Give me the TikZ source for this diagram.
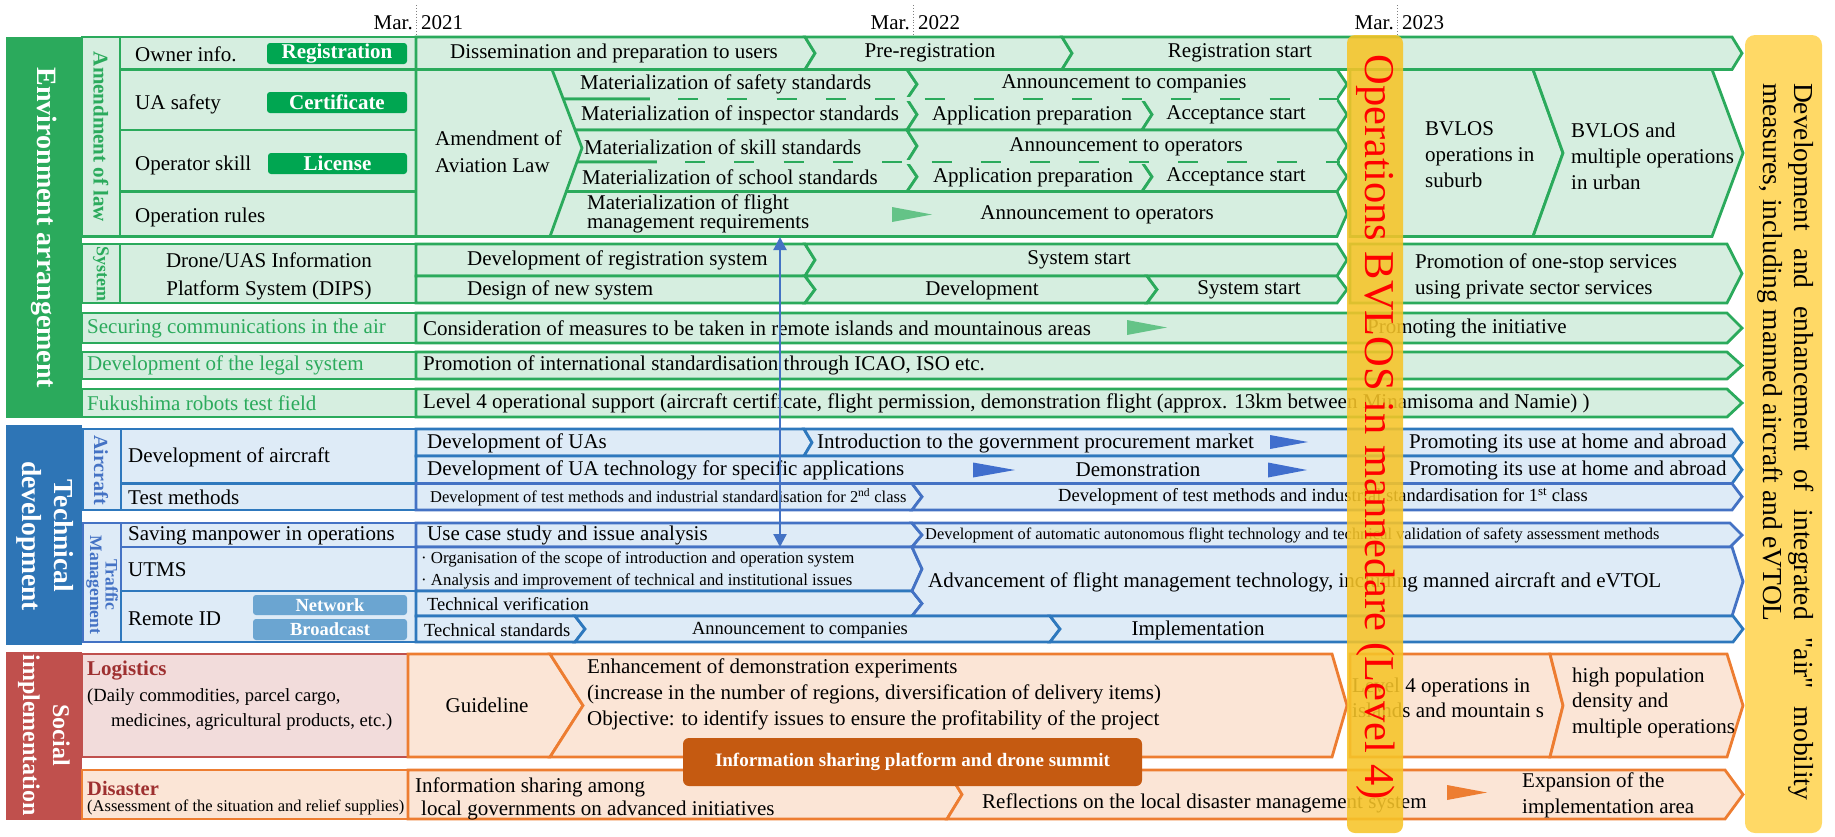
\documentclass[tikz,border=0pt]{standalone}
\usepackage{fontspec}
\setmainfont{Liberation Serif}[Ligatures=TeXOff]
\usetikzlibrary{arrows.meta}

\definecolor{egreen}{RGB}{43,170,92}
\definecolor{lgreen}{RGB}{214,238,224}
\definecolor{bgreen}{RGB}{0,166,81}
\definecolor{mkgreen}{RGB}{100,195,135}
\definecolor{tblue}{RGB}{46,117,182}
\definecolor{blueA}{RGB}{46,120,189}
\definecolor{blueB}{RGB}{68,114,196}
\definecolor{lblue}{RGB}{222,235,247}
\definecolor{badgeblue}{RGB}{107,165,209}
\definecolor{mkblue}{RGB}{64,110,205}
\definecolor{sred}{RGB}{192,80,77}
\definecolor{lpink}{RGB}{242,220,219}
\definecolor{dred}{RGB}{158,48,48}
\definecolor{orng}{RGB}{237,125,49}
\definecolor{lpeach}{RGB}{251,229,214}
\definecolor{banner}{RGB}{197,90,17}
\definecolor{ylw}{RGB}{246,196,40}
\definecolor{ylwlight}{RGB}{255,217,102}

% chevron: style, x left, left notch depth, x tip, tip depth, y top, y bottom
\newcommand{\chevshape}[7]{%
  \path[#1] (#2,#6) -- ({#4-#5},#6) -- (#4,{(#6+#7)/2}) -- ({#4-#5},#7)
    -- (#2,#7) -- ({#2+#3},{(#6+#7)/2}) -- cycle;}

\begin{document}
\begin{tikzpicture}[x=1pt, y=-1pt,
  cellg/.style={fill=lgreen, draw=egreen, line width=2.8pt},
  cellbA/.style={fill=lblue, draw=blueA, line width=2.8pt},
  cellbB/.style={fill=lblue, draw=blueB, line width=2.8pt},
  cello/.style={fill=lpeach, draw=orng, line width=2.8pt},
  cellr/.style={fill=lpink, draw=sred, line width=2.8pt},
  txt/.style={inner sep=0pt, font=\fontsize{21}{26}\selectfont},
  txtw/.style={txt, anchor=west},
  fsmall/.style={font=\fontsize{16.5}{20}\selectfont},
  fmid/.style={font=\fontsize{18.5}{23}\selectfont},
  bandtxt/.style={inner sep=0pt, rotate=-90, text=white, align=center},
  subtxt/.style={inner sep=0pt, rotate=-90, align=center},
  badgeg/.style={fill=bgreen, rounded corners=3pt, inner sep=0pt, text=white,
    font=\bfseries\fontsize{21}{24}\selectfont},
  badgeb/.style={fill=badgeblue, rounded corners=3pt, inner sep=0pt, text=white,
    font=\bfseries\fontsize{18.5}{22}\selectfont}
]
\useasboundingbox (0,0) rectangle (1835,836);

% ---------- time axis
\foreach \xx/\yr/\nm in {416/2021/a,913/2022/b,1397/2023/c}{
  \draw[gray, dotted, line width=0.9pt] (\xx,5) -- (\xx,36);
  \node[txt, anchor=east] (mar\nm) at (\xx-3,23) {Mar.};
  \node[txt, anchor=west] (yr\nm) at (\xx+5,23) {\yr};
}

% ================= Environment arrangement =================
\path[fill=egreen] (6,37) rectangle (82,418);
\node[bandtxt, font=\bfseries\fontsize{28}{32}\selectfont] (envT) at (44,228) {Environment arrangement};

\path[cellg] (82,37) rectangle (120,236.5);
\node[subtxt, text=egreen, font=\bfseries\fontsize{21}{24}\selectfont] (lawT) at (101,137) {Amendment of law};

\path[cellg] (120,37) rectangle (416,69.5);
\path[cellg] (120,69.5) rectangle (416,130);
\path[cellg] (120,130) rectangle (416,191.5);
\path[cellg] (120,191.5) rectangle (416,236.5);
\node[txtw] (ownT) at (135,54) {Owner info.};
\node[txtw] (uaT) at (135,104) {UA safety};
\node[txtw] (opT) at (135,165) {Operator skill};
\node[txtw] (orT) at (135,217) {Operation rules};
\node[badgeg, minimum width=140pt, minimum height=21pt] (regB) at (337,53.5) {Registration};
\node[badgeg, minimum width=140pt, minimum height=21pt] (cerB) at (337,102.5) {Certificate};
\node[badgeg, minimum width=139pt, minimum height=21pt] (licB) at (337.5,163.5) {License};

% owner info row
\chevshape{cellg}{416}{0}{815}{10}{37}{69.5}
\chevshape{cellg}{805}{10}{1072}{10}{37}{69.5}
\chevshape{cellg}{1062}{10}{1742}{10}{37}{69.5}
\node[txt] (dissT) at (614,53) {Dissemination and preparation to users};
\node[txt] (preT) at (930,53) {Pre-registration};
\node[txt] (regsT) at (1240,53) {Registration start};

% BVLOS stages
\path[cellg] (1350,69.5) -- (1533,69.5) -- (1563,153) -- (1533,236.5) -- (1350,236.5) -- cycle;
\path[cellg] (1533,69.5) -- (1712,69.5) -- (1743,153) -- (1712,236.5) -- (1533,236.5) -- (1563,153) -- cycle;
\node[txtw, align=left] (bv1T) at (1425,155) {BVLOS\\operations in\\suburb};
\node[txtw, align=left] (bv2T) at (1571,156) {BVLOS and\\multiple operations\\in urban};

% standards rows
\chevshape{cellg}{540}{0}{917}{10}{69.5}{99}
\chevshape{cellg}{907}{10}{1347}{10}{69.5}{99}
\chevshape{cellg}{540}{0}{917}{10}{99}{130}
\chevshape{cellg}{907}{10}{1152}{10}{99}{130}
\chevshape{cellg}{1142}{10}{1347}{10}{99}{130}
\chevshape{cellg}{540}{0}{917}{10}{130}{162}
\chevshape{cellg}{907}{10}{1347}{10}{130}{162}
\chevshape{cellg}{540}{0}{917}{10}{162}{191.5}
\chevshape{cellg}{907}{10}{1152}{10}{162}{191.5}
\chevshape{cellg}{1142}{10}{1347}{10}{162}{191.5}
\chevshape{cellg}{540}{0}{1347}{10}{191.5}{236.5}

% Amendment of Aviation Law
\path[cellg] (416,69.5) -- (552,69.5) -- (582,148) -- (550,236.5) -- (416,236.5) -- cycle;
\node[txtw, align=left, font=\fontsize{21}{27}\selectfont] (aalT) at (435,152) {Amendment of\\Aviation Law};

% dashed separators
\draw[lgreen, line width=3.6pt] (650,99) -- (1337,99);
\draw[egreen, line width=2.8pt, dash pattern=on 20pt off 29.3pt] (678,99) -- (1340,99);
\draw[lgreen, line width=3.6pt] (657,162) -- (1337,162);
\draw[egreen, line width=2.8pt, dash pattern=on 20pt off 29.3pt] (685,162) -- (1340,162);

\node[txtw] (matsT) at (580,84) {Materialization of safety standards};
\node[txt] (ancT) at (1124,84) {Announcement to companies};
\node[txtw] (matiT) at (581,115) {Materialization of inspector standards};
\node[txt] (appT1) at (1032,115) {Application preparation};
\node[txt] (accT1) at (1236,115) {Acceptance start};
\node[txtw] (matkT) at (584,147) {Materialization of skill standards};
\node[txt] (anoT) at (1126,147) {Announcement to operators};
\node[txtw] (matcT) at (582,177) {Materialization of school standards};
\node[txt] (appT2) at (1033,177) {Application preparation};
\node[txt] (accT2) at (1236,177) {Acceptance start};
\node[txtw, align=left, font=\fontsize{21}{19}\selectfont] (matfT) at (587,214) {Materialization of flight\\management requirements};
\path[fill=mkgreen] (892,207) -- (932,214.5) -- (892,222) -- cycle;
\node[txt] (anoT2) at (1097,215) {Announcement to operators};

% System
\path[cellg] (82,244) rectangle (120,303);
\node[subtxt, text=egreen, font=\bfseries\fontsize{18}{20}\selectfont] (sysT) at (101,274) {System};
\path[cellg] (120,244) rectangle (416,303);
\node[txt, align=center, font=\fontsize{21}{28}\selectfont] (dipsT) at (269,276) {Drone/UAS Information\\Platform System (DIPS)};

\path[cellg] (1350,244) -- (1727,244) -- (1742,273.5) -- (1727,303) -- (1350,303) -- cycle;
\chevshape{cellg}{416}{0}{815}{10}{244}{276}
\chevshape{cellg}{805}{10}{1347}{10}{244}{276}
\chevshape{cellg}{416}{0}{815}{10}{276}{303}
\chevshape{cellg}{805}{10}{1157}{10}{276}{303}
\chevshape{cellg}{1147}{10}{1347}{10}{276}{303}
\node[txtw] (drsT) at (467,260) {Development of registration system};
\node[txt] (ss1T) at (1079,260) {System start};
\node[txtw] (dnsT) at (467,290) {Design of new system};
\node[txt] (devT) at (982,290) {Development};
\node[txt] (ss2T) at (1249,290) {System start};
\node[txtw, align=left] (promT) at (1415,276.5) {Promotion of one-stop services\\using private sector services};

% single-line green rows
\path[cellg] (82,313) rectangle (416,343);
\chevshape{cellg}{416}{0}{1742}{15}{313}{343}
\path[cellg] (82,352) rectangle (416,379);
\chevshape{cellg}{416}{0}{1742}{15}{352}{379}
\path[cellg] (82,389) rectangle (416,417);
\chevshape{cellg}{416}{0}{1742}{15}{389}{417}
\node[txtw, text=egreen] (secT) at (87,328) {Securing communications in the air};
\node[txtw, text=egreen] (legT) at (87,365.5) {Development of the legal system};
\node[txtw, text=egreen] (fukT) at (87,403) {Fukushima robots test field};
\node[txtw] (consT) at (423,328) {Consideration of measures to be taken in remote islands and mountainous areas};
\path[fill=mkgreen] (1127,320) -- (1167,327.5) -- (1127,335) -- cycle;
\node[txtw] (pinitT) at (1367,328) {Promoting the initiative};
\node[txtw] (intlT) at (423,365.5) {Promotion of international standardisation through ICAO, ISO etc.};
\node[txtw] (lv4T) at (423,403) {Level 4 operational support (aircraft certificate, flight permission, demonstration flight (approx. 13km between Minamisoma and Namie) )};

% ================= Technical development =================
\path[fill=tblue] (6,425) rectangle (82,645);
\node[bandtxt, font=\bfseries\fontsize{27.5}{32}\selectfont] (techT) at (45,536) {Technical\\development};

\path[cellbA] (83,429) rectangle (121,510);
\node[subtxt, text=blueB, font=\bfseries\fontsize{20}{22}\selectfont] (acT) at (101,470) {Aircraft};
\path[cellbA] (121,429) rectangle (416,483.5);
\path[cellbA] (121,483.5) rectangle (416,510);
\node[txtw] (devacT) at (128,457) {Development of aircraft};
\node[txtw] (tmethT) at (128,497) {Test methods};

\path[cellbB] (83,523) rectangle (121,642);
\node[subtxt, text=blueB, font=\bfseries\fontsize{17.5}{15.5}\selectfont] (tmT) at (102,585) {Traffic\\Management};
\path[cellbB] (121,523) rectangle (416,547);
\path[cellbB] (121,547) rectangle (416,591);
\path[cellbA] (121,591) rectangle (416,642);
\node[txtw] (savT) at (128,535.5) {Saving manpower in operations};
\node[txtw] (utmsT) at (128,570) {UTMS};
\node[txtw] (ridT) at (128,619) {Remote ID};
\node[badgeb, minimum width=154pt, minimum height=20pt] (netB) at (330,605) {Network};
\node[badgeb, minimum width=154pt, minimum height=21pt] (brcB) at (330,629.5) {Broadcast};

% aircraft rows
\chevshape{cellbA}{416}{0}{812}{8}{429}{456}
\chevshape{cellbA}{804}{8}{1742}{10}{429}{456}
\chevshape{cellbA}{416}{0}{1742}{10}{456}{483.5}
\chevshape{cellbB}{416}{0}{922}{10}{483.5}{510}
\chevshape{cellbB}{912}{10}{1742}{10}{483.5}{510}
\node[txtw] (duaT) at (427,443) {Development of UAs};
\node[txtw] (introT) at (817,443) {Introduction to the government procurement market};
\path[fill=mkblue] (1270,435) -- (1308,442) -- (1270,449) -- cycle;
\node[txtw] (prom1T) at (1409,443) {Promoting its use at home and abroad};
\node[txtw] (duatT) at (427,470) {Development of UA technology for specific applications};
\path[fill=mkblue] (973,462.5) -- (1015,470) -- (973,477.5) -- cycle;
\node[txt] (demoT) at (1138,470) {Demonstration};
\path[fill=mkblue] (1268,462.5) -- (1307,470) -- (1268,477.5) -- cycle;
\node[txtw] (prom2T) at (1409,470) {Promoting its use at home and abroad};
\node[txtw, fsmall] (tm2T) at (430,497) {Development of test methods and industrial standardisation for 2\textsuperscript{nd} class};
\node[txt, fmid] (tm1T) at (1323,497) {Development of test methods and industrial standardisation for 1\textsuperscript{st} class};

% traffic management rows
\chevshape{cellbB}{416}{0}{922}{10}{523}{547}
\chevshape{cellbB}{912}{10}{1742}{12}{523}{547}
\chevshape{cellbB}{416}{0}{922}{10}{547}{591}
\chevshape{cellbA}{416}{0}{922}{10}{591}{616}
\path[cellbB] (912,547) -- (1732,547) -- (1743,581.5) -- (1732,616) -- (912,616)
  -- (922,603.5) -- (912,591) -- (922,569) -- cycle;
\chevshape{cellbA}{416}{0}{585}{10}{616}{642}
\chevshape{cellbA}{575}{10}{1060}{10}{616}{642}
\chevshape{cellbA}{1050}{10}{1743}{10}{616}{642}
\node[txtw] (ucT) at (427,535) {Use case study and issue analysis};
\node[txtw, font=\fontsize{16.4}{20}\selectfont] (autoT) at (925,535) {Development of automatic autonomous flight technology and technical validation of safety assessment methods};
\node[txtw, align=left, font=\fontsize{16.8}{22}\selectfont] (utmsbT) at (421,570) {· Organisation of the scope of introduction and operation system\\· Analysis and improvement of technical and institutional issues};
\node[txtw] (advT) at (928,582) {Advancement of flight management technology, including manned aircraft and eVTOL};
\node[txtw, fmid] (tvT) at (427,604) {Technical verification};
\node[txtw, fmid] (tsT) at (424,630) {Technical standards};
\node[txt, fmid] (ancT2) at (800,630) {Announcement to companies};
\node[txt] (implT) at (1198,630) {Implementation};

% ================= Social implementation =================
\path[fill=sred] (6,652) rectangle (82,820);
\node[bandtxt, font=\bfseries\fontsize{24}{30}\selectfont] (socT) at (44,735) {Social\\implementation};
\path[cellr] (82,654) rectangle (408,757);
\path[cello] (82,770) rectangle (408,819);
\node[txtw, text=dred, font=\bfseries\fontsize{21}{24}\selectfont] (logT) at (87,671) {Logistics};
\node[txtw, align=left, font=\fontsize{18.6}{25}\selectfont] (logdT) at (87,709.5) {(Daily commodities, parcel cargo,\\\hspace*{24pt}medicines, agricultural products, etc.)};
\node[txtw, text=dred, font=\bfseries\fontsize{20.5}{24}\selectfont] (disT) at (87,788) {Disaster};
\node[txtw, fsmall] (disdT) at (87,807) {(Assessment of the situation and relief supplies)};

\path[cello] (408,654) -- (550,654) -- (583,705.5) -- (550,757) -- (408,757) -- cycle;
\path[cello] (1350,654) -- (1550,654) -- (1563,705.5) -- (1550,757) -- (1350,757) -- cycle;
\path[cello] (550,654) -- (1332,654) -- (1347,705.5) -- (1332,757) -- (550,757) -- (583,705.5) -- cycle;
\path[cello] (1550,654) -- (1727,654) -- (1743,705.5) -- (1727,757) -- (1550,757) -- (1563,705.5) -- cycle;
\path[cello] (408,770) -- (947,770) -- (962,794.5) -- (947,819) -- (408,819) -- cycle;
\path[cello] (947,770) -- (1725,770) -- (1743,794.5) -- (1725,819) -- (947,819) -- (962,794.5) -- cycle;

\node[txt] (guideT) at (487,705) {Guideline};
\node[txtw, align=left] (enhT) at (587,694) {Enhancement of demonstration experiments\\(increase in the number of regions, diversification of delivery items)\\Objective: to identify issues to ensure the profitability of the project};
\node[txtw, align=left, font=\fontsize{21}{25}\selectfont] (islT) at (1352,697.5) {Level 4 operations in\\islands and mountain s};
\node[txtw, align=left, font=\fontsize{21}{25.5}\selectfont] (hpT) at (1572,702.5) {high population\\density and\\multiple operations};
\node[txtw, align=left, font=\fontsize{21}{23}\selectfont] (infoT) at (415,798.5) {Information sharing among\\\hspace*{6pt}local governments on advanced initiatives};
\node[txtw] (reflT) at (982,803) {Reflections on the local disaster management system};
\path[fill=orng] (1447,785) -- (1487,792.5) -- (1447,800) -- cycle;
\node[txtw, align=left] (expT) at (1522,795) {Expansion of the\\implementation area};

\node[fill=banner, rounded corners=6pt, minimum width=459pt, minimum height=48pt, inner sep=0pt,
  text=white, font=\bfseries\fontsize{19}{22}\selectfont] (bannerT) at (912.5,762) {Information sharing platform and drone summit};

% link between flight management requirements and traffic management
\coordinate (arrTop) at (780,237);
\coordinate (arrBot) at (780,547);
\draw[blueB, line width=2.2pt, {Triangle[width=13pt,length=13pt]}-{Triangle[width=13pt,length=13pt]}] (arrTop) -- (arrBot);

% ================= milestones =================
\path[fill=ylw, fill opacity=0.88, rounded corners=8pt] (1347,35) rectangle (1403,833);
\node[inner sep=0pt, rotate=-90, text=red, font=\fontsize{42.5}{50}\selectfont] (opsT) at (1376,427) {Operations BVLOS in mannedare (Level 4)};

\path[fill=ylwlight, rounded corners=10pt] (1745,35) rectangle (1822,833);
\node[inner sep=0pt, rotate=-90] (goalT) at (1786,441.5) {\parbox{717pt}{\fontsize{27.5}{31}\selectfont
  \makebox[717pt][s]{Development and enhancement of integrated "air" mobility}\\
  measures, including manned aircraft and eVTOL}};
\end{tikzpicture}
\end{document}
